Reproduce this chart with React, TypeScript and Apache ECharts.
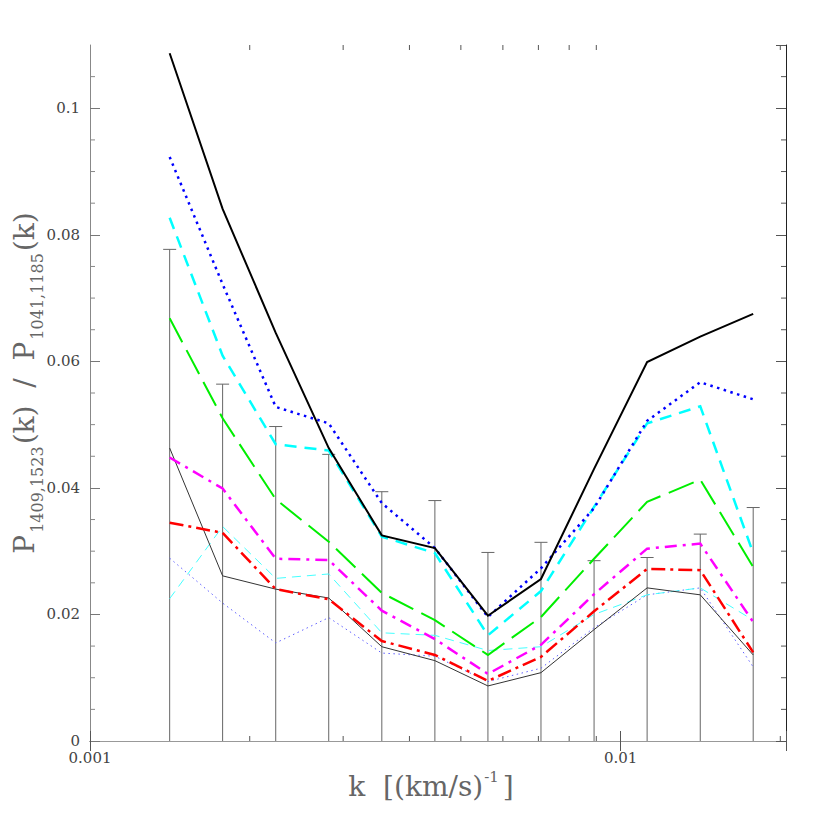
import React, { useEffect, useRef } from "react";
import * as echarts from "echarts";

// wavenumbers k [(km/s)^-1]
const kValues = [0.001413, 0.001778, 0.002239, 0.002818, 0.003548, 0.004467, 0.005623, 0.007079, 0.008913, 0.01122, 0.01413, 0.01778];

// ratio curves
const blackThick = [0.1087, 0.0841, 0.0645, 0.0463, 0.0325, 0.0305, 0.0198, 0.0256, 0.043, 0.0599, 0.0639, 0.0675];
const blueThick = [0.0923, 0.0722, 0.0528, 0.0502, 0.0376, 0.0305, 0.0196, 0.0273, 0.0368, 0.0506, 0.0567, 0.054];
const cyanThick = [0.0827, 0.0609, 0.0469, 0.0459, 0.0323, 0.0297, 0.0167, 0.0237, 0.037, 0.0502, 0.0529, 0.0297];
const greenLine = [0.0668, 0.051, 0.0382, 0.0315, 0.0234, 0.0191, 0.0136, 0.0196, 0.0288, 0.0378, 0.0413, 0.0275];
const magentaLine = [0.0448, 0.0399, 0.0288, 0.0286, 0.0206, 0.0161, 0.0106, 0.0152, 0.0232, 0.0304, 0.0312, 0.0188];
const redLine = [0.0345, 0.0329, 0.024, 0.0224, 0.0158, 0.0136, 0.0095, 0.0133, 0.0205, 0.0272, 0.027, 0.014];
const blackThin = [0.0463, 0.0261, 0.024, 0.0226, 0.0149, 0.0127, 0.0087, 0.0108, 0.0176, 0.0242, 0.0231, 0.0136];
const blueThin = [0.0289, 0.0218, 0.0155, 0.0195, 0.0139, 0.0134, 0.0094, 0.0115, 0.0179, 0.0231, 0.0242, 0.0117];
const cyanThin = [0.0225, 0.0339, 0.0257, 0.0264, 0.0171, 0.0167, 0.0143, 0.0149, 0.02, 0.0231, 0.0242, 0.0191];

// error bar upper ends
const errorTop = [0.0777, 0.0564, 0.0497, 0.0453, 0.0394, 0.038, 0.0298, 0.0314, 0.0285, 0.029, 0.0327, 0.0369];

// axis extents and ticks
const xMin = 0.001;
const xMax = 0.0205;
const yMin = 0;
const yMax = 0.11;
const yInterval = 0.02;
const xMinorTicks = [0.002, 0.003, 0.004, 0.005, 0.006, 0.007, 0.008, 0.009, 0.02];
const yMinorTicks = [0.005, 0.01, 0.015, 0.025, 0.03, 0.035, 0.045, 0.05, 0.055, 0.065, 0.07, 0.075, 0.085, 0.09, 0.095, 0.105];
const yTickLabels: Record<string, string> = { "0": "0", "0.02": "0.02", "0.04": "0.04", "0.06": "0.06", "0.08": "0.08", "0.1": "0.1" };
const xTickLabels: Record<string, string> = { "0.001": "0.001", "0.01": "0.01" };

const FONT = "'DejaVu Serif', 'Liberation Serif', serif";

export default function App() {
  const ref = useRef<HTMLDivElement>(null);

  useEffect(() => {
    if (!ref.current) return;
    const chart = echarts.init(ref.current, undefined, { renderer: "svg" });

    const mk = (v: number) => String(Number(v.toPrecision(6)));

    const lineSeries = (data: number[], color: string, width: number, type: any, z = 3) => ({
      type: "line",
      data: data.map((v, i) => [kValues[i], v]),
      symbol: "none",
      showSymbol: false,
      silent: true,
      z,
      lineStyle: { color, width, type, cap: "butt", join: "miter" },
    });

    const tickStyle = { stroke: "#555", lineWidth: 1 };
    const titleMain = { fontFamily: FONT, fontSize: 28, color: "#666", lineHeight: 42, verticalAlign: "middle" };

    const option: any = {
      animation: false,
      backgroundColor: "#ffffff",
      grid: { left: 82, right: 52, top: 37, bottom: 97, containLabel: false, outerBoundsMode: "none" },
      xAxis: [
        {
          type: "log",
          logBase: 10,
          min: xMin,
          max: xMax,
          position: "bottom",
          name: "{p|k  [(km/s)}{s|-1}{e|]}",
          nameLocation: "middle",
          nameGap: 24,
          nameTextStyle: {
            rich: {
              p: { ...titleMain, lineHeight: 40 },
              e: { ...titleMain, lineHeight: 40, padding: [0, 14, 0, 0] },
              s: { fontFamily: FONT, fontSize: 15, color: "#666", verticalAlign: "top", padding: [3, 4, 0, 1] },
            },
          },
          axisLine: { show: true, lineStyle: { color: "#444", width: 1 } },
          axisTick: { show: true, inside: true, length: 10, lineStyle: { color: "#555" } },
          minorTick: { show: false },
          splitLine: { show: false },
          axisLabel: {
            fontFamily: FONT,
            fontSize: 15,
            color: "#444",
            margin: 9,
            formatter: (v: number) => xTickLabels[mk(v)] ?? "",
          },
        },
        {
          type: "log",
          logBase: 10,
          min: xMin,
          max: xMax,
          position: "top",
          axisLine: { show: true, lineStyle: { color: "#999", width: 1 } },
          axisTick: { show: true, inside: true, length: 10, lineStyle: { color: "#555" } },
          axisLabel: { show: false },
          splitLine: { show: false },
        },
      ],
      yAxis: [
        {
          type: "value",
          min: yMin,
          max: yMax,
          interval: yInterval,
          position: "left",
          name: "{b|P}{s|1409,1523}{p|(k)  /  P}{s|1041,1185}{p|(k)}",
          nameLocation: "middle",
          nameRotate: 90,
          nameGap: 45,
          nameMoveOverlap: false,
          nameTextStyle: {
            rich: {
              p: titleMain,
              b: { ...titleMain, padding: [0, 0, 0, 20] },
              s: { fontFamily: FONT, fontSize: 16, color: "#666", verticalAlign: "bottom", padding: [0, 2, 0, 2] },
            },
          },
          axisLine: { show: true, lineStyle: { color: "#888", width: 1 } },
          axisTick: { show: true, inside: true, length: 10, lineStyle: { color: "#777" } },
          minorTick: { show: false },
          splitLine: { show: false },
          axisLabel: {
            fontFamily: FONT,
            fontSize: 15,
            color: "#444",
            margin: 10,
            showMaxLabel: false,
            formatter: (v: number) => yTickLabels[mk(v)] ?? "",
          },
        },
        {
          type: "value",
          min: yMin,
          max: yMax,
          interval: yInterval,
          position: "right",
          axisLine: { show: true, lineStyle: { color: "#222", width: 1 } },
          axisTick: { show: true, inside: true, length: 10, lineStyle: { color: "#555" } },
          axisLabel: { show: false },
          splitLine: { show: false },
        },
      ],
      series: [
        {
          type: "custom",
          name: "errors",
          silent: true,
          z: 1,
          data: errorTop.map((t, i) => [kValues[i], t]),
          encode: { x: 0, y: 1 },
          renderItem: (params: any, api: any) => {
            const x = api.value(0);
            const top = api.value(1);
            const p0 = api.coord([x, yMin]);
            const p1 = api.coord([x, top]);
            const st = { stroke: "#666", lineWidth: 1 };
            return {
              type: "group",
              children: [
                { type: "line", shape: { x1: p0[0], y1: p0[1], x2: p1[0], y2: p1[1] }, style: st },
                { type: "line", shape: { x1: p1[0] - 6.5, y1: p1[1], x2: p1[0] + 6.5, y2: p1[1] }, style: st },
              ],
            };
          },
        },
        {
          type: "custom",
          name: "xminor",
          silent: true,
          z: 2,
          data: xMinorTicks.map((v) => [v, yMin]),
          encode: { x: 0, y: 1 },
          renderItem: (params: any, api: any) => {
            const x = api.value(0);
            const b = api.coord([x, yMin]);
            const t = api.coord([x, yMax]);
            return {
              type: "group",
              children: [
                { type: "line", shape: { x1: b[0], y1: b[1], x2: b[0], y2: b[1] - 5 }, style: tickStyle },
                { type: "line", shape: { x1: t[0], y1: t[1], x2: t[0], y2: t[1] + 5 }, style: tickStyle },
              ],
            };
          },
        },
        {
          type: "custom",
          name: "yminor",
          silent: true,
          z: 2,
          data: yMinorTicks.map((v) => [xMin, v]),
          encode: { x: 0, y: 1 },
          renderItem: (params: any, api: any) => {
            const y = api.value(1);
            const l = api.coord([xMin, y]);
            const r = api.coord([xMax, y]);
            return {
              type: "group",
              children: [
                { type: "line", shape: { x1: l[0], y1: l[1], x2: l[0] + 5, y2: l[1] }, style: { stroke: "#888", lineWidth: 1 } },
                { type: "line", shape: { x1: r[0], y1: r[1], x2: r[0] - 5, y2: r[1] }, style: tickStyle },
              ],
            };
          },
        },
        lineSeries(blueThin, "#6060ff", 1, [1.5, 3.5]),
        lineSeries(cyanThin, "#44ffff", 1, [9, 6]),
        lineSeries(blackThin, "#333333", 1, "solid"),
        lineSeries(redLine, "#ff0000", 2.5, [14, 5, 3, 5]),
        lineSeries(magentaLine, "#ff00ff", 2.5, [12, 6, 3, 6]),
        lineSeries(greenLine, "#00ee00", 2, [27, 9]),
        lineSeries(cyanThick, "#00ffff", 2.5, [12, 8]),
        lineSeries(blueThick, "#0000ff", 2.5, [2.5, 4.5]),
        lineSeries(blackThick, "#000000", 2, "solid"),
      ],
    };

    chart.setOption(option);
    return () => chart.dispose();
  }, []);

  return <div ref={ref} style={{ width: 830, height: 830 }} />;
}
